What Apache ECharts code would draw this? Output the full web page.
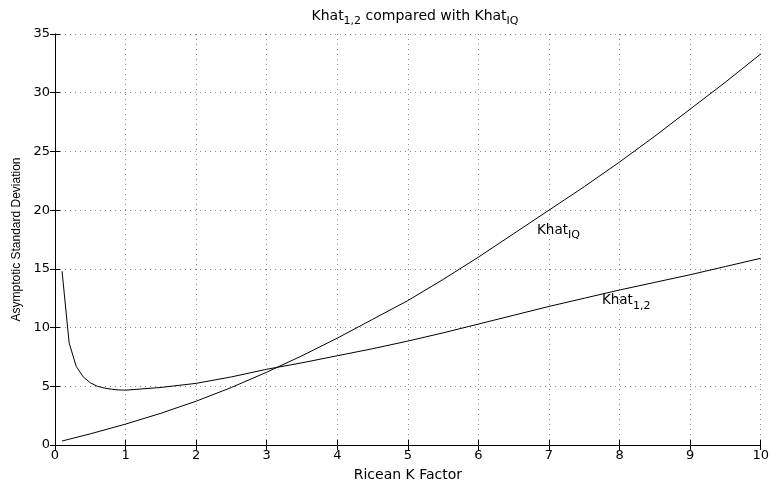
<!DOCTYPE html>
<html>
<head>
<meta charset="utf-8">
<script src="https://cdn.jsdelivr.net/npm/echarts@6/dist/echarts.min.js"></script>
<style>
  html, body { margin: 0; padding: 0; background: #fff; }
  #chart { width: 772px; height: 487px; }
</style>
</head>
<body>
<div id="chart"></div>
<script>
// values
const k12 = [0.1, 0.2, 0.3, 0.4, 0.5, 0.6, 0.7, 0.8, 0.9, 1.0, 1.5, 2, 2.5, 3, 3.5, 4, 4.5, 5, 5.5, 6, 6.5, 7, 7.5, 8, 8.5, 9, 9.5, 10];
const khat12 = [14.8, 8.7, 6.7, 5.8, 5.3, 5.0, 4.85, 4.75, 4.69, 4.67, 4.9, 5.25, 5.8, 6.45, 7.0, 7.6, 8.2, 8.85, 9.55, 10.3, 11.05, 11.8, 12.5, 13.2, 13.85, 14.5, 15.2, 15.9];
const kIQ = [0.1, 0.5, 1, 1.5, 2, 2.5, 3, 3.5, 4, 4.5, 5, 5.5, 6, 6.5, 7, 7.5, 8, 8.5, 9, 9.5, 10];
const khatIQ = [0.34, 0.95, 1.78, 2.7, 3.73, 4.9, 6.2, 7.6, 9.1, 10.7, 12.3, 14.1, 16.0, 18.0, 20.0, 22.0, 24.1, 26.3, 28.6, 30.9, 33.3];
const xTicks = [0, 10, 1];
const yTicks = [0, 35, 5];

const wide = 'DejaVu Sans, Verdana, sans-serif';
const narrow = 'Liberation Sans, Arial, sans-serif';

function pairs(xs, ys) {
  return xs.map((x, i) => [x, ys[i]]);
}

function subRich(size, subSize, drop) {
  return {
    n: { fontFamily: wide, fontSize: size, fontWeight: 'normal', color: '#000' },
    s: { fontFamily: wide, fontSize: subSize, fontWeight: 'normal', color: '#000', padding: [drop, 0, 0, 0] }
  };
}

const chart = echarts.init(document.getElementById('chart'));

const hiddenAxis = {
  axisLine: { show: true, lineStyle: { color: '#000', width: 1 } },
  axisTick: { show: true, inside: true, length: 5, lineStyle: { color: '#000' } },
  axisLabel: { show: false },
  splitLine: { show: false }
};

const option = {
  animation: false,
  backgroundColor: '#fff',
  title: {
    text: '{n|Khat}{s|1,2}{n| compared with Khat}{s|IQ}',
    left: 410,
    textAlign: 'center',
    top: 0,
    textStyle: { fontWeight: 'normal', rich: subRich(14, 11, 11) }
  },
  grid: { left: 55, right: 7, top: 34, bottom: 37 },
  xAxis: [
    {
      type: 'value',
      min: xTicks[0], max: xTicks[1], interval: xTicks[2],
      name: 'Ricean K Factor',
      nameLocation: 'middle',
      nameGap: 23,
      nameTextStyle: { fontFamily: wide, fontSize: 14, color: '#000' },
      axisLine: { show: true, onZero: false, lineStyle: { color: '#000', width: 1 } },
      axisTick: { show: true, inside: true, length: 5, lineStyle: { color: '#000' } },
      axisLabel: { fontFamily: wide, fontSize: 13, color: '#000', margin: 4 },
      splitLine: { show: true, lineStyle: { color: '#888', width: 1, type: [1, 4] } }
    },
    Object.assign({ type: 'value', position: 'top', min: xTicks[0], max: xTicks[1], interval: xTicks[2] }, hiddenAxis)
  ],
  yAxis: [
    {
      type: 'value',
      min: yTicks[0], max: yTicks[1], interval: yTicks[2],
      name: 'Asymptotic Standard Deviation',
      nameLocation: 'middle',
      nameRotate: 90,
      nameGap: 30,
      nameTextStyle: { fontFamily: narrow, fontSize: 12, color: '#000' },
      axisLine: { show: true, onZero: false, lineStyle: { color: '#000', width: 1 } },
      axisTick: { show: true, inside: true, length: 5, lineStyle: { color: '#000' } },
      axisLabel: { fontFamily: wide, fontSize: 13, color: '#000', margin: 5 },
      splitLine: { show: true, lineStyle: { color: '#888', width: 1, type: [1, 4] } }
    },
    Object.assign({ type: 'value', position: 'right', min: yTicks[0], max: yTicks[1], interval: yTicks[2] }, hiddenAxis)
  ],
  series: [
    {
      name: 'Khat12',
      type: 'line',
      data: pairs(k12, khat12),
      showSymbol: false,
      lineStyle: { color: '#000', width: 1 },
      markPoint: {
        symbol: 'circle', symbolSize: 0,
        data: [{ coord: [7.75, 12.3] }],
        label: {
          show: true, position: 'right', distance: 0,
          formatter: '{n|Khat}{s|1,2}',
          rich: subRich(13.5, 11, 11)
        }
      }
    },
    {
      name: 'KhatIQ',
      type: 'line',
      data: pairs(kIQ, khatIQ),
      showSymbol: false,
      lineStyle: { color: '#000', width: 1 },
      markPoint: {
        symbol: 'circle', symbolSize: 0,
        data: [{ coord: [6.83, 18.3] }],
        label: {
          show: true, position: 'right', distance: 0,
          formatter: '{n|Khat}{s|IQ}',
          rich: subRich(13.5, 11, 11)
        }
      }
    }
  ]
};

chart.setOption(option);
</script>
</body>
</html>
